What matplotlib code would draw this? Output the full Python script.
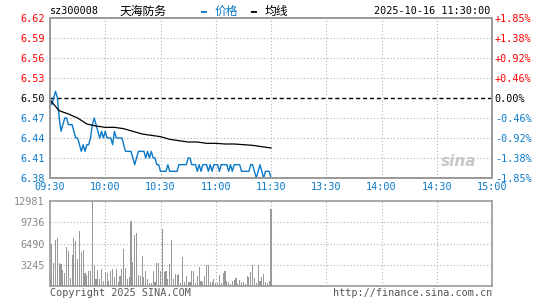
import numpy as np
import matplotlib
matplotlib.use('Agg')
import matplotlib.pyplot as plt

# minute data 09:30 - 11:30 (121 points)
price = [6.50, 6.49, 6.50, 6.51, 6.50, 6.47, 6.45, 6.46, 6.47, 6.47,
         6.46, 6.46, 6.46, 6.45, 6.44, 6.44, 6.43, 6.42, 6.43, 6.42,
         6.43, 6.43, 6.44, 6.46, 6.47, 6.46, 6.45, 6.44, 6.45, 6.44,
         6.45, 6.44, 6.44, 6.44, 6.43, 6.45, 6.44, 6.44, 6.44, 6.44,
         6.43, 6.42, 6.42, 6.42, 6.42, 6.41, 6.40, 6.41, 6.42, 6.42,
         6.42, 6.42, 6.41, 6.42, 6.41, 6.42, 6.41, 6.41, 6.40, 6.40,
         6.39, 6.39, 6.39, 6.39, 6.40, 6.39, 6.39, 6.39, 6.39, 6.39,
         6.40, 6.40, 6.40, 6.40, 6.40, 6.41, 6.41, 6.40, 6.40, 6.40,
         6.39, 6.40, 6.39, 6.40, 6.40, 6.40, 6.39, 6.40, 6.39, 6.40,
         6.40, 6.40, 6.39, 6.40, 6.40, 6.40, 6.40, 6.39, 6.40, 6.39,
         6.40, 6.40, 6.40, 6.40, 6.39, 6.39, 6.39, 6.39, 6.39, 6.40,
         6.40, 6.39, 6.38, 6.39, 6.40, 6.39, 6.38, 6.39, 6.39, 6.39,
         6.38]

volume = [1420, 6460, 3560, 7020, 7330, 3560, 3400, 2440, 2030, 6000,
          5340, 1270, 4730, 7330, 6870, 4080, 8400, 5190, 5500, 1940,
          1730, 2290, 2290, 12981, 3160, 1120, 2440, 1020, 2590, 760,
          2140, 1940, 760, 2290, 2590, 1370, 2590, 610, 1530, 2650,
          5700, 2800, 1120, 1430, 9930, 3670, 7740, 8140, 1680, 1530,
          4580, 1380, 2290, 1120, 510, 510, 2290, 610, 3560, 3560,
          2290, 8750, 2140, 2290, 1120, 3300, 7020, 1120, 1780, 1680,
          1780, 410, 4430, 610, 1530, 610, 610, 2290, 2290, 510,
          1530, 2900, 760, 610, 1530, 3160, 3160, 610, 610, 1120,
          410, 410, 1680, 410, 1940, 2240, 760, 610, 360, 760,
          920, 1220, 360, 920, 610, 610, 310, 1530, 1430, 2140,
          3160, 1220, 410, 3160, 760, 1430, 1780, 610, 410, 820,
          11800]

# average line, read every 5 minutes
avg_t = list(range(0, 121, 5))
avg = [6.497, 6.481, 6.476, 6.470, 6.461, 6.458, 6.456, 6.456, 6.454, 6.450,
       6.446, 6.444, 6.442, 6.438, 6.436, 6.434, 6.434, 6.432, 6.432, 6.431,
       6.431, 6.430, 6.429, 6.427, 6.425]

prev_close = 6.50
price_ticks = [6.62, 6.59, 6.56, 6.53, 6.50, 6.47, 6.44, 6.41, 6.38]
pct_labels = ['+1.85%', '+1.38%', '+0.92%', '+0.46%', '0.00%',
              '-0.46%', '-0.92%', '-1.38%', '-1.85%']
vol_ticks = [3245, 6490, 9736, 12981]
time_ticks = [0, 30, 60, 90, 120, 150, 180, 210, 240]
time_labels = ['09:30', '10:00', '10:30', '11:00', '11:30',
               '13:30', '14:00', '14:30', '15:00']

RED = '#ff0000'
BLUE = '#0a7ac8'
GRAY = '#999999'
MONO = 'DejaVu Sans Mono'
FS = 7.3

t = np.arange(len(price))

fig = plt.figure(figsize=(5.45, 3.0), dpi=100)
ax = fig.add_axes([50/545, 1-178/300, 442/545, 160/300])
axv = fig.add_axes([50/545, 1-286/300, 442/545, 85/300])

# ---- price panel
ax.set_xlim(0, 240)
ax.set_ylim(6.38, 6.62)
for yv in price_ticks[1:-1]:
    if yv == prev_close:
        ax.axhline(yv, color='black', lw=1.0, ls=(0, (3, 2)), zorder=1)
    else:
        ax.axhline(yv, color='#b0b0b0', lw=0.8, ls=(0, (1, 2)), zorder=1)
for xv in time_ticks[1:-1]:
    ax.axvline(xv, color='#b0b0b0', lw=0.8, ls=(0, (1, 2)), zorder=1)
ax.plot(t, price, color=BLUE, lw=1.0, zorder=3)
ax.plot(avg_t, avg, color='black', lw=0.9, zorder=3)

ax.set_yticks(price_ticks)
ax.set_yticklabels(['%.2f' % v for v in price_ticks])
ax.tick_params(axis='y', length=0, pad=4, labelsize=FS)
for lab, v in zip(ax.get_yticklabels(), price_ticks):
    lab.set_fontfamily(MONO)
    lab.set_color(RED if v > prev_close else ('black' if v == prev_close else BLUE))
ax.set_xticks(time_ticks)
ax.set_xticklabels(time_labels)
ax.tick_params(axis='x', length=0, pad=3, labelsize=FS, colors=BLUE)
for lab in ax.get_xticklabels():
    lab.set_fontfamily(MONO)

axr = ax.twinx()
axr.set_ylim(6.38, 6.62)
axr.set_yticks(price_ticks)
axr.set_yticklabels(pct_labels)
axr.tick_params(axis='y', length=0, pad=2, labelsize=FS)
for lab, v in zip(axr.get_yticklabels(), price_ticks):
    lab.set_fontfamily(MONO)
    lab.set_color(RED if v > prev_close else ('black' if v == prev_close else BLUE))

for a in (ax, axr):
    for s in a.spines.values():
        s.set_color(GRAY)
        s.set_linewidth(1.2)

# sina watermark
ax.text(0.965, 0.1, 'sina', transform=ax.transAxes, ha='right', va='center',
        fontsize=11, fontweight='bold', style='italic', color='#c8c8c8', zorder=2)

# ---- volume panel
axv.set_xlim(0, 240)
axv.set_ylim(0, 12981)
for yv in vol_ticks[:-1]:
    axv.axhline(yv, color='#b0b0b0', lw=0.8, ls=(0, (1, 2)), zorder=1)
for xv in time_ticks[1:-1]:
    axv.axvline(xv, color='#b0b0b0', lw=0.8, ls=(0, (1, 2)), zorder=1)
axv.bar(t, volume, width=0.6, color=GRAY, zorder=2)
axv.set_xticks([])
axv.set_yticks(vol_ticks)
axv.set_yticklabels([str(v) for v in vol_ticks])
axv.tick_params(axis='y', length=0, pad=4, labelsize=FS, colors='#888888')
for lab in axv.get_yticklabels():
    lab.set_fontfamily(MONO)
for s in axv.spines.values():
    s.set_color(GRAY)
    s.set_linewidth(1.2)

# ---- header / footer texts
fig.text(50/545, 1-11/300, 'sz300008', fontsize=FS, family=MONO, va='center', ha='left')
fig.text(120/545, 1-11/300, '天海防务', fontsize=8.5, family=['Noto Sans CJK SC', 'DejaVu Sans'],
         va='center', ha='left')
fig.text(200/545, 1-11/300, '━', fontsize=7, color=BLUE, va='center', ha='left')
fig.text(215/545, 1-11/300, '价格', fontsize=8.5, color=BLUE,
         family=['Noto Sans CJK SC', 'DejaVu Sans'], va='center', ha='left')
fig.text(250/545, 1-11/300, '━', fontsize=7, color='black', va='center', ha='left')
fig.text(265/545, 1-11/300, '均线', fontsize=8.5, color='black',
         family=['Noto Sans CJK SC', 'DejaVu Sans'], va='center', ha='left')
fig.text(490/545, 1-11/300, '2025-10-16 11:30:00', fontsize=FS, family=MONO,
         va='center', ha='right')
fig.text(50/545, 1-293/300, 'Copyright 2025 SINA.COM', fontsize=FS, family=MONO,
         color='#555555', va='center', ha='left')
fig.text(492/545, 1-293/300, 'http://finance.sina.com.cn', fontsize=FS, family=MONO,
         color='#555555', va='center', ha='right')

fig.savefig('out.png', dpi=100, facecolor='white')
